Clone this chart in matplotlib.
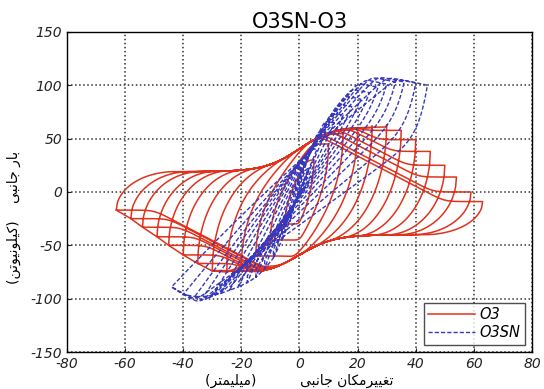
import numpy as np
import matplotlib.pyplot as plt

# O3 (solid red): peak point of every cycle, displacement (mm) / load (kN)
o3_pos_disp = [5, 10, 15, 20, 25, 30, 35, 40, 45, 50, 54, 59, 63]
o3_pos_load = [30, 45, 55, 60, 62, 63, 58, 49, 38, 25, 14, 0, -9]
o3_neg_disp = [-5, -10, -15, -20, -25, -30, -35, -40, -45, -49, -54, -58, -63]
o3_neg_load = [-30, -45, -60, -70, -75, -74, -67, -59, -50, -42, -33, -25, -17]
# load plateaus of the O3 branches (left part, right part)
o3_upper_plateau = [19, 62]
o3_lower_plateau = [-78, -40]

# O3SN (dashed blue)
o3sn_pos_disp = [3, 6, 9, 12, 15, 18, 21, 24, 27, 30, 33, 36, 40, 44]
o3sn_pos_load = [22, 40, 56, 65, 72, 80, 87, 93, 98, 101, 103, 103, 102, 100]
o3sn_neg_disp = [-3, -6, -9, -12, -15, -18, -21, -24, -27, -30, -33, -36, -40, -44]
o3sn_neg_load = [-25, -45, -62, -72, -80, -85, -89, -92, -95, -97, -98, -98, -96, -89]

x_ticks = [-80, -60, -40, -20, 0, 20, 40, 60, 80]
y_ticks = [-150, -100, -50, 0, 50, 100, 150]

title = 'O3SN-O3'
xlabel = 'تغییرمکان جانبی          (میلیمتر)'
ylabel = 'بار جانبی    (کیلونیوتن)'

plt.rcParams['axes.unicode_minus'] = False

# matplotlib has no arabic shaping, so pick the presentation forms by hand
FORMS = {
    'ا': ('\ufe8d', '\ufe8e'),
    'ر': ('\ufead', '\ufeae'),
    'و': ('\ufeed', '\ufeee'),
    'ب': ('\ufe8f', '\ufe90', '\ufe91', '\ufe92'),
    'ت': ('\ufe95', '\ufe96', '\ufe97', '\ufe98'),
    'ج': ('\ufe9d', '\ufe9e', '\ufe9f', '\ufea0'),
    'غ': ('\ufecd', '\ufece', '\ufecf', '\ufed0'),
    'ل': ('\ufedd', '\ufede', '\ufedf', '\ufee0'),
    'م': ('\ufee1', '\ufee2', '\ufee3', '\ufee4'),
    'ن': ('\ufee5', '\ufee6', '\ufee7', '\ufee8'),
    'ک': ('\ufb8e', '\ufb8f', '\ufb90', '\ufb91'),
    'ی': ('\ufbfc', '\ufbfd', '\ufbfe', '\ufbff'),
}


def shape_fa(text):
    out = []
    for i, ch in enumerate(text):
        f = FORMS.get(ch)
        if f is None:
            out.append({'(': ')', ')': '('}.get(ch, ch))
            continue
        prev = text[i - 1] if i > 0 else ''
        nxt = text[i + 1] if i + 1 < len(text) else ''
        a = prev in FORMS and len(FORMS[prev]) == 4
        b = nxt in FORMS and len(f) == 4
        if a and b:
            out.append(f[3])
        elif a:
            out.append(f[1])
        elif b:
            out.append(f[2])
        else:
            out.append(f[0])
    return ''.join(reversed(out))


def sig(z):
    return 1 / (1 + np.exp(-z))


def softmin(a, b, k):
    return -k * np.logaddexp(-a / k, -b / k)


def softmax(a, b, k):
    return k * np.logaddexp(a / k, b / k)


def arc(s):
    s = np.clip(s, 0, 1)
    return np.sqrt(1 - (1 - s) ** 2)


def o3_loop(xl, yl, xr, yr, a=20, flat=13, slope=1.42):
    x = np.linspace(xl, xr, 400)
    # upper branch: round start at the left tip, plateau, then down to the right tip level
    plat = o3_upper_plateau[0] + (o3_upper_plateau[1] - o3_upper_plateau[0]) * sig(x / 6)
    up = yl + (plat - yl) * arc((x - xl) / a)
    cap = softmax(yr + slope * (xr - flat - x), yr + 0 * x, 2)
    up = softmin(up, cap, 2)
    # lower branch, the same turned round
    plat = o3_lower_plateau[1] + (o3_lower_plateau[0] - o3_lower_plateau[1]) * sig(-x / 6)
    lo = yr + (plat - yr) * arc((xr - x) / a)
    cap = softmin(yl - slope * (x - xl - flat), yl + 0 * x, 2)
    lo = softmax(lo, cap, 2)
    up[-1] = yr
    lo[0] = yl
    return np.r_[x, x[::-1], x[:1]], np.r_[up, lo[::-1], up[:1]]


def o3sn_loop(xl, yl, xr, yr):
    x = np.linspace(xl, xr, 400)
    span = xr - xl
    k = (yr - yl) / span
    r = span / 88
    t = (x - xl) / span
    # upper branch: bent rise from the left tip, rounded top near the right tip
    up = yl + (yr - yl) * t * (1.15 + 0.2 * (1 - t))
    up = softmin(up, yr + 0.6 * (xr - x), 3)
    # lower branch: steep unloading, then a flatter line, rounded bottom
    drop = 0.5 * span * r
    lo = yr - drop * (1 - np.exp(-(xr - x) / 3)) - k * 0.92 * (xr - x)
    lo = softmax(lo, yl - 1.5 * (x - xl), 3)
    up[-1] = yr
    lo[0] = yl
    return np.r_[x, x[::-1], x[:1]], np.r_[up, lo[::-1], up[:1]]


fig = plt.figure(figsize=(5.44, 3.89), dpi=100)
ax = fig.add_axes([0.123, 0.095, 0.855, 0.823])

red = '#e0321c'
blue = '#3838bc'

xs, ys = [], []
for xl, yl, xr, yr in zip(o3_neg_disp, o3_neg_load, o3_pos_disp, o3_pos_load):
    lx, ly = o3_loop(xl, yl, xr, yr)
    xs.append(lx)
    ys.append(ly)
ax.plot(np.concatenate(xs), np.concatenate(ys), color=red, lw=1.1, label='O3')

xs, ys = [], []
for xl, yl, xr, yr in zip(o3sn_neg_disp, o3sn_neg_load, o3sn_pos_disp, o3sn_pos_load):
    lx, ly = o3sn_loop(xl, yl, xr, yr)
    xs.append(lx)
    ys.append(ly)
ax.plot(np.concatenate(xs), np.concatenate(ys), color=blue, lw=1.0,
        linestyle=(0, (3, 1.5)), label='O3SN')

ax.set_xlim(-80, 80)
ax.set_ylim(-150, 150)
ax.set_xticks(x_ticks)
ax.set_yticks(y_ticks)
for lab in ax.get_xticklabels() + ax.get_yticklabels():
    lab.set_fontstyle('italic')
ax.tick_params(labelsize=10, direction='in', length=3, colors='#222222')
ax.grid(True, color='#333333', linestyle=':', lw=1.1)
for s in ax.spines.values():
    s.set_linewidth(1.0)

ax.set_title(title, fontsize=15, pad=2)
ax.set_xlabel(shape_fa(xlabel), fontsize=10, labelpad=2)
ax.set_ylabel(shape_fa(ylabel), fontsize=10)
ax.yaxis.set_label_coords(-0.098, 0.42)

leg = ax.legend(loc='lower right', fancybox=False, edgecolor='#222222',
                prop={'style': 'italic', 'size': 10.5}, handlelength=3.2,
                borderaxespad=0.5, labelspacing=0.2, handletextpad=0.3,
                borderpad=0.3)
leg.get_frame().set_linewidth(1.0)

fig.savefig('out.png', dpi=100)
